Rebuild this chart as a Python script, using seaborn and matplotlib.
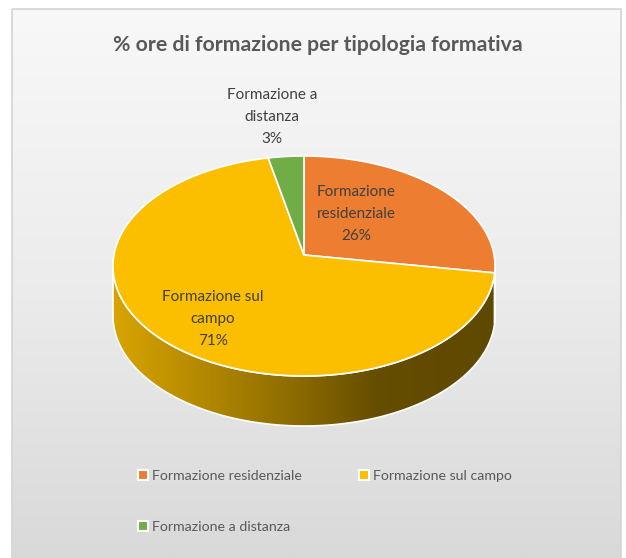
import numpy as np
import matplotlib
matplotlib.use("Agg")
import matplotlib.pyplot as plt
import seaborn as sns
from matplotlib.patches import Polygon, Rectangle, Patch
from matplotlib.colors import LinearSegmentedColormap, to_rgb

# ------------------------------------------------------------
# dati
# ------------------------------------------------------------
categorie = ["Formazione residenziale", "Formazione sul campo", "Formazione a distanza"]
percentuali = [26, 71, 3]
etichette = ["Formazione\nresidenziale\n26%", "Formazione sul\ncampo\n71%", "Formazione a\ndistanza\n3%"]
titolo = "% ore di formazione per tipologia formativa"

sns.set_theme(style="white")
plt.rcParams["font.family"] = ["Lato", "DejaVu Sans"]
colori = sns.color_palette(["#ED7D31", "#FBBF00", "#70AD47"])

# geometria della torta 3D (pixel)
CX, CY = 304, 266
A, B = 191, 110
DEPTH = 50
VX, VY = 304, 255  # vertice (prospettiva)

fig = plt.figure(figsize=(6.26, 5.58), dpi=100)
fig.patch.set_facecolor("white")
ax = fig.add_axes([0, 0, 1, 1])

# sfondo sfumato dell'area grafico
grad = np.linspace(0, 1, 256).reshape(-1, 1)
bg_cmap = LinearSegmentedColormap.from_list("bg", ["#f8f8f8", "#ececec", "#d9d9d9"])
ax.imshow(grad, extent=[12, 621, 558, 9], cmap=bg_cmap, aspect="auto", zorder=0)
ax.add_patch(Rectangle((12, 9), 609, 560, fill=False, edgecolor="#d4d4d4", lw=1.2, zorder=1))


def punto(theta):
    return CX + A * np.sin(theta), CY - B * np.cos(theta)


# angoli cumulativi (in senso orario dalle ore 12)
frazioni = np.array(percentuali) / sum(percentuali)
fine = np.cumsum(frazioni) * 2 * np.pi
inizio = np.concatenate([[0], fine[:-1]])

# lato (parte frontale visibile)
shade_x = [113, 200, 300, 380, 496]
shade_v = [0.86, 0.72, 0.55, 0.40, 0.38]
xs = np.linspace(113, 496, 400)
for t0, t1, col in zip(inizio, fine, colori):
    a0, a1 = max(t0, np.pi / 2), min(t1, 3 * np.pi / 2)
    if a1 <= a0:
        continue
    th = np.linspace(a0, a1, 200)
    px, py = punto(th)
    poly = np.vstack([np.column_stack([px, py]), np.column_stack([px[::-1], py[::-1] + DEPTH])])
    shade = np.interp(xs, shade_x, shade_v)
    rgb = np.array(to_rgb(col))
    img = (shade[:, None] * rgb[None, :])[None, :, :]
    patch = Polygon(poly, closed=True, facecolor="none", edgecolor="white", lw=1.2, zorder=3)
    ax.add_patch(patch)
    im = ax.imshow(img, extent=[113, 496, CY + B + DEPTH + 5, CY - 20], aspect="auto", zorder=2)
    im.set_clip_path(patch)

# faccia superiore
for t0, t1, col in zip(inizio, fine, colori):
    th = np.linspace(t0, t1, 200)
    px, py = punto(th)
    poly = np.vstack([[VX, VY], np.column_stack([px, py])])
    ax.add_patch(Polygon(poly, closed=True, facecolor=col, edgecolor="white", lw=1.2, zorder=4))

# etichette dati
pos_etichette = [(356, 214), (213, 319), (272, 117)]
for (x, y), txt in zip(pos_etichette, etichette):
    ax.text(x, y, txt, ha="center", va="center", multialignment="center",
            fontsize=11, color="#404040", linespacing=1.75, zorder=5)

ax.text(318, 45, titolo, ha="center", va="center", fontsize=15.3,
        fontweight="bold", color="#595959", zorder=5)

# legenda (ordine per righe)
handles = [Patch(facecolor=c, edgecolor="white", lw=1.5) for c in colori]
ordine = [0, 2, 1]
ax.legend([handles[i] for i in ordine], [categorie[i] for i in ordine],
          loc="upper left", bbox_to_anchor=(138 / 626, 1 - 470 / 558), ncol=2,
          frameon=False, fontsize=10.2, labelcolor="#595959", handlelength=0.7,
          handleheight=0.7, handletextpad=0.3, columnspacing=4.0, labelspacing=2.75,
          borderpad=0, borderaxespad=0)

ax.set_xlim(0, 626)
ax.set_ylim(558, 0)
ax.axis("off")

fig.savefig("out.png", dpi=100)
